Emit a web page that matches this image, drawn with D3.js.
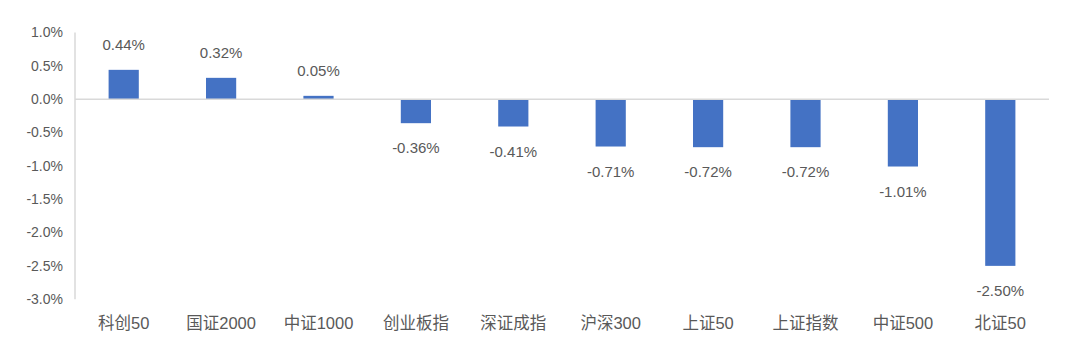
<!DOCTYPE html>
<html>
<head>
<meta charset="utf-8">
<script src="https://cdn.jsdelivr.net/npm/d3@7"></script>
<style>
  body { margin: 0; background: #fff; }
  text { font-family: "Liberation Sans", "Noto Sans CJK SC", sans-serif; fill: #595959; }
</style>
</head>
<body>
<svg id="chart" width="1080" height="355"></svg>
<script>
// data
const categories = ['科创50', '国证2000', '中证1000', '创业板指', '深证成指', '沪深300', '上证50', '上证指数', '中证500', '北证50'];
const values = [0.44, 0.32, 0.05, -0.36, -0.41, -0.71, -0.72, -0.72, -1.01, -2.50];
const yTicks = [1.0, 0.5, 0.0, -0.5, -1.0, -1.5, -2.0, -2.5, -3.0];

const margin = { top: 32.5, right: 31, bottom: 56, left: 75 };
const width = 1080, height = 355;

const svg = d3.select('#chart');

const x = d3.scaleBand()
    .domain(categories)
    .range([margin.left, width - margin.right])
    .paddingInner(0.69)
    .paddingOuter(0.345);

const y = d3.scaleLinear()
    .domain([-3, 1])
    .range([height - margin.bottom + 0.2, margin.top]);

// y axis line
svg.append('line')
    .attr('x1', margin.left).attr('x2', margin.left)
    .attr('y1', y(1)).attr('y2', y(-3))
    .attr('stroke', '#d9d9d9').attr('stroke-width', 1.5);

// y tick labels
svg.append('g')
    .selectAll('text')
    .data(yTicks)
    .join('text')
    .attr('x', 63)
    .attr('y', d => y(d))
    .attr('dy', '0.35em')
    .attr('text-anchor', 'end')
    .style('font-size', '14px')
    .text(d => d.toFixed(1) + '%');

// bars
svg.append('g')
    .selectAll('rect')
    .data(values)
    .join('rect')
    .attr('x', (d, i) => x(categories[i]))
    .attr('width', x.bandwidth())
    .attr('y', d => y(Math.max(0, d)))
    .attr('height', d => Math.abs(y(d) - y(0)))
    .attr('fill', '#4472C4');

// zero line
svg.append('line')
    .attr('x1', margin.left).attr('x2', width - margin.right)
    .attr('y1', y(0)).attr('y2', y(0))
    .attr('stroke', '#d9d9d9').attr('stroke-width', 1.5);

// value labels
svg.append('g')
    .selectAll('text')
    .data(values)
    .join('text')
    .attr('x', (d, i) => x(categories[i]) + x.bandwidth() / 2)
    .attr('y', d => d >= 0 ? y(d) - 25 : y(d) + 25)
    .attr('dy', '0.35em')
    .attr('text-anchor', 'middle')
    .style('font-size', '15px')
    .text(d => d.toFixed(2) + '%');

// category labels
svg.append('g')
    .selectAll('text')
    .data(categories)
    .join('text')
    .attr('x', d => x(d) + x.bandwidth() / 2)
    .attr('y', 323)
    .attr('dy', '0.35em')
    .attr('text-anchor', 'middle')
    .style('font-size', '16.5px')
    .text(d => d);
</script>
</body>
</html>
